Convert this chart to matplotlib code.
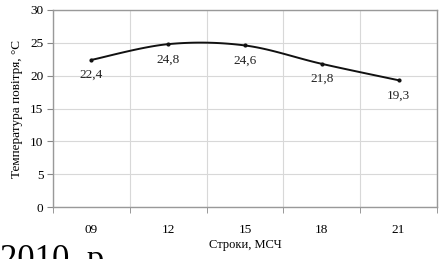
import matplotlib
matplotlib.use('Agg')
import matplotlib.pyplot as plt
import numpy as np

hours = ['09', '12', '15', '18', '21']
temps = [22.4, 24.8, 24.6, 21.8, 19.3]
labels = ['22,4', '24,8', '24,6', '21,8', '19,3']


def smooth(xs, ys, n=30):
    # excel-like smoothed line (cardinal bezier)
    p = np.column_stack([xs, ys]).astype(float)
    p = np.vstack([p[0], p, p[-1]])
    t = np.linspace(0, 1, n)[:, None]
    out = []
    for i in range(1, len(p) - 2):
        a, b = p[i], p[i + 1]
        c1 = a + (p[i + 1] - p[i - 1]) / 6
        c2 = b - (p[i + 2] - p[i]) / 6
        seg = (1 - t) ** 3 * a + 3 * (1 - t) ** 2 * t * c1 + 3 * (1 - t) * t ** 2 * c2 + t ** 3 * b
        out.append(seg)
    out = np.vstack(out)
    return out[:, 0], out[:, 1]


plt.rcParams['font.family'] = ['Liberation Serif', 'DejaVu Serif']

fig = plt.figure(figsize=(4.4, 2.59), dpi=100)
ax = fig.add_axes([53 / 440, 1 - 207 / 259, 384 / 440, 197 / 259])

x = np.arange(len(hours))
sx, sy = smooth(x, temps)
ax.plot(sx, sy, color='#111111', lw=1.4, zorder=3)
ax.plot(x, temps, 'o', color='#111111', ms=2, zorder=4)
for xi, yi, lab in zip(x, temps, labels):
    ax.annotate(lab, (xi, yi), xytext=(0, -11), textcoords='offset points',
                ha='center', va='center', fontsize=9.5, color='#222222')

ax.set_xlim(-0.5, len(hours) - 0.5)
ax.set_ylim(0, 30)
ax.set_yticks(np.arange(0, 31, 5))
ax.set_xticks(x)
ax.set_xticklabels(hours)
ax.set_xticks(np.arange(-0.5, len(hours)), minor=True)
ax.tick_params(axis='x', which='major', length=0, pad=12, labelsize=9.5)
ax.tick_params(axis='x', which='minor', length=4, color='#888888')
ax.tick_params(axis='y', length=4, color='#888888', labelsize=9.5, pad=3)
ax.grid(axis='y', color='#d8d8d8', lw=0.8)
ax.grid(axis='x', which='minor', color='#d8d8d8', lw=0.8)
for s in ax.spines.values():
    s.set_color('#999999')
    s.set_linewidth(1.0)

ax.set_ylabel('Температура повітря, °С', fontsize=9.5, labelpad=5)
fig.text(245 / 440, 1 - 245 / 259, 'Строки, МСЧ', ha='center', va='center', fontsize=9)
fig.text(0.0, 1 - 244 / 259, '2010  р.', ha='left', va='top', fontsize=25)

fig.savefig('out.png', dpi=100)
